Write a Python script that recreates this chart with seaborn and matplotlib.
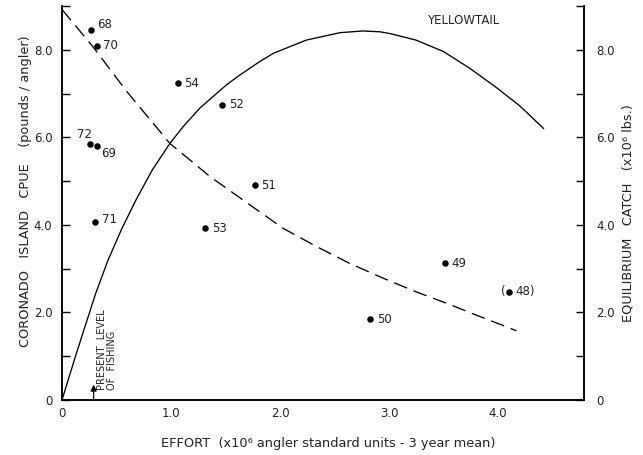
import matplotlib
matplotlib.use("Agg")
import matplotlib.pyplot as plt
import seaborn as sns
import pandas as pd

# ---- data ----
years = ["68", "70", "54", "52", "72", "69", "71", "53", "51", "50", "49", "48"]
effort = [0.27, 0.32, 1.06, 1.47, 0.26, 0.32, 0.30, 1.31, 1.77, 2.83, 3.51, 4.10]
cpue = [8.45, 8.09, 7.24, 6.74, 5.85, 5.81, 4.07, 3.94, 4.91, 1.85, 3.12, 2.47]

cpue_curve_x = [0.0, 0.29, 0.59, 0.99, 1.36, 1.70, 2.03, 2.34, 2.64, 2.95, 3.25, 3.56, 3.79, 4.05, 4.17]
cpue_curve_y = [8.92, 8.05, 7.06, 5.86, 5.10, 4.50, 3.92, 3.50, 3.12, 2.78, 2.47, 2.18, 1.95, 1.70, 1.58]

catch_curve_x = [0.0, 0.12, 0.21, 0.31, 0.42, 0.55, 0.685, 0.83, 0.99, 1.11, 1.27, 1.51, 1.63,
                 1.82, 1.94, 2.24, 2.55, 2.76, 2.92, 3.01, 3.25, 3.50, 3.74, 3.99, 4.20, 4.42]
catch_curve_y = [0.0, 0.97, 1.67, 2.44, 3.18, 3.92, 4.60, 5.26, 5.86, 6.24, 6.68, 7.20, 7.42,
                 7.74, 7.92, 8.22, 8.39, 8.43, 8.41, 8.37, 8.22, 7.96, 7.58, 7.13, 6.72, 6.20]

present_level = 0.29
y_major = [0, 2, 4, 6, 8]
y_labels = ["0", "2.0", "4.0", "6.0", "8.0"]
y_minor = [1, 3, 5, 7, 9]
x_major = [0, 1, 2, 3, 4]
x_labels = ["0", "1.0", "2.0", "3.0", "4.0"]

# label offsets (points) for the year annotations: (dx, dy, ha, text)
label_style = {
    "68": (4, 4, "left", "68"), "70": (4.5, 0, "left", "70"), "54": (4.5, 0, "left", "54"),
    "52": (5, 0, "left", "52"), "72": (1, 7, "right", "72"), "69": (3, -6, "left", "69"),
    "71": (5, 1.5, "left", "71"), "53": (5, -1, "left", "53"), "51": (4.5, 0, "left", "51"),
    "50": (5, 0, "left", "50"), "49": (5, 0, "left", "49"), "48": (5, 0, "left", "48)"),
}

sns.set_theme(style="white")
plt.rcParams["font.family"] = ["DejaVu Sans"]
plt.rcParams["lines.scale_dashes"] = False

fig = plt.figure(figsize=(6.43, 4.55), dpi=100)
ax = fig.add_axes([62 / 643, 1 - 400 / 455, 522 / 643, 394 / 455])
ax.set_facecolor("white")

pts = pd.DataFrame({"effort": effort, "cpue": cpue, "year": years})
sns.scatterplot(data=pts, x="effort", y="cpue", ax=ax, color="black", s=22,
                edgecolor="black", linewidth=0, zorder=3)

sns.lineplot(x=cpue_curve_x, y=cpue_curve_y, ax=ax, color="black", sort=False,
             estimator=None, linewidth=0.95, linestyle=(0, (10, 5)))
sns.lineplot(x=catch_curve_x, y=catch_curve_y, ax=ax, color="black", sort=False,
             estimator=None, linewidth=0.95)

for yr, xv, yv in zip(years, effort, cpue):
    dx, dy, ha, txt = label_style[yr]
    ax.annotate(txt, (xv, yv), xytext=(dx, dy), textcoords="offset points",
                ha=ha, va="center", fontsize=8.5, color="#222222")
    if yr == "48":
        ax.annotate("(", (xv, yv), xytext=(-2.5, 0.5), textcoords="offset points",
                    ha="right", va="center", fontsize=8.5, color="#222222")

ax.annotate("", xy=(present_level, 0.35), xytext=(present_level, 0.0),
            arrowprops=dict(arrowstyle="-|>", color="black", lw=0.9,
                            mutation_scale=9, shrinkA=0, shrinkB=0))
ax.text(present_level + 0.035, 0.22, "PRESENT  LEVEL\nOF  FISHING", rotation=90,
        ha="left", va="bottom", multialignment="left", fontsize=7, color="#222222",
        linespacing=1.0)

ax.text(3.35, 8.68, "YELLOWTAIL", ha="left", va="center", fontsize=8.5, color="#222222")

ax.set_xlim(0, 4.79)
ax.set_ylim(0, 9.0)
ax.set_xticks(x_major)
ax.set_xticklabels(x_labels)
ax.set_yticks(y_major)
ax.set_yticklabels(y_labels)
ax.set_yticks(y_minor, minor=True)

ax2 = ax.twinx()
ax2.set_ylim(0, 9.0)
ax2.set_yticks(y_major)
ax2.set_yticklabels(y_labels)
ax2.set_yticks(y_minor, minor=True)

for a in (ax, ax2):
    for s in a.spines.values():
        s.set_color("black")
        s.set_linewidth(1.1)
    a.spines["top"].set_visible(False)
    a.grid(False)

ax.tick_params(axis="y", which="both", direction="in", length=6, width=1,
               labelsize=8.5, pad=7, colors="black", labelcolor="#222222")
ax.tick_params(axis="x", which="both", direction="in", length=4, width=1,
               labelsize=8.5, pad=5, colors="black", labelcolor="#222222")
ax2.tick_params(axis="y", which="both", direction="in", length=6, width=1,
                labelsize=8.5, pad=9, colors="black", labelcolor="#222222")

ax.set_xlabel("EFFORT  (x10⁶ angler standard units - 3 year mean)", fontsize=9.3, color="#222222")
ax.xaxis.set_label_coords(0.511, -0.094)
ax.set_ylabel("CORONADO   ISLAND   CPUE    (pounds / angler)", fontsize=9.3, color="#222222")
ax.yaxis.set_label_coords(-0.057, 0.53)
ax2.set_ylabel("EQUILIBRIUM   CATCH   (x10⁶ lbs.)", fontsize=9.3, color="#222222", rotation=90)
ax2.yaxis.set_label_coords(1.072, 0.475)

fig.savefig("out.png", dpi=100, facecolor="white")
